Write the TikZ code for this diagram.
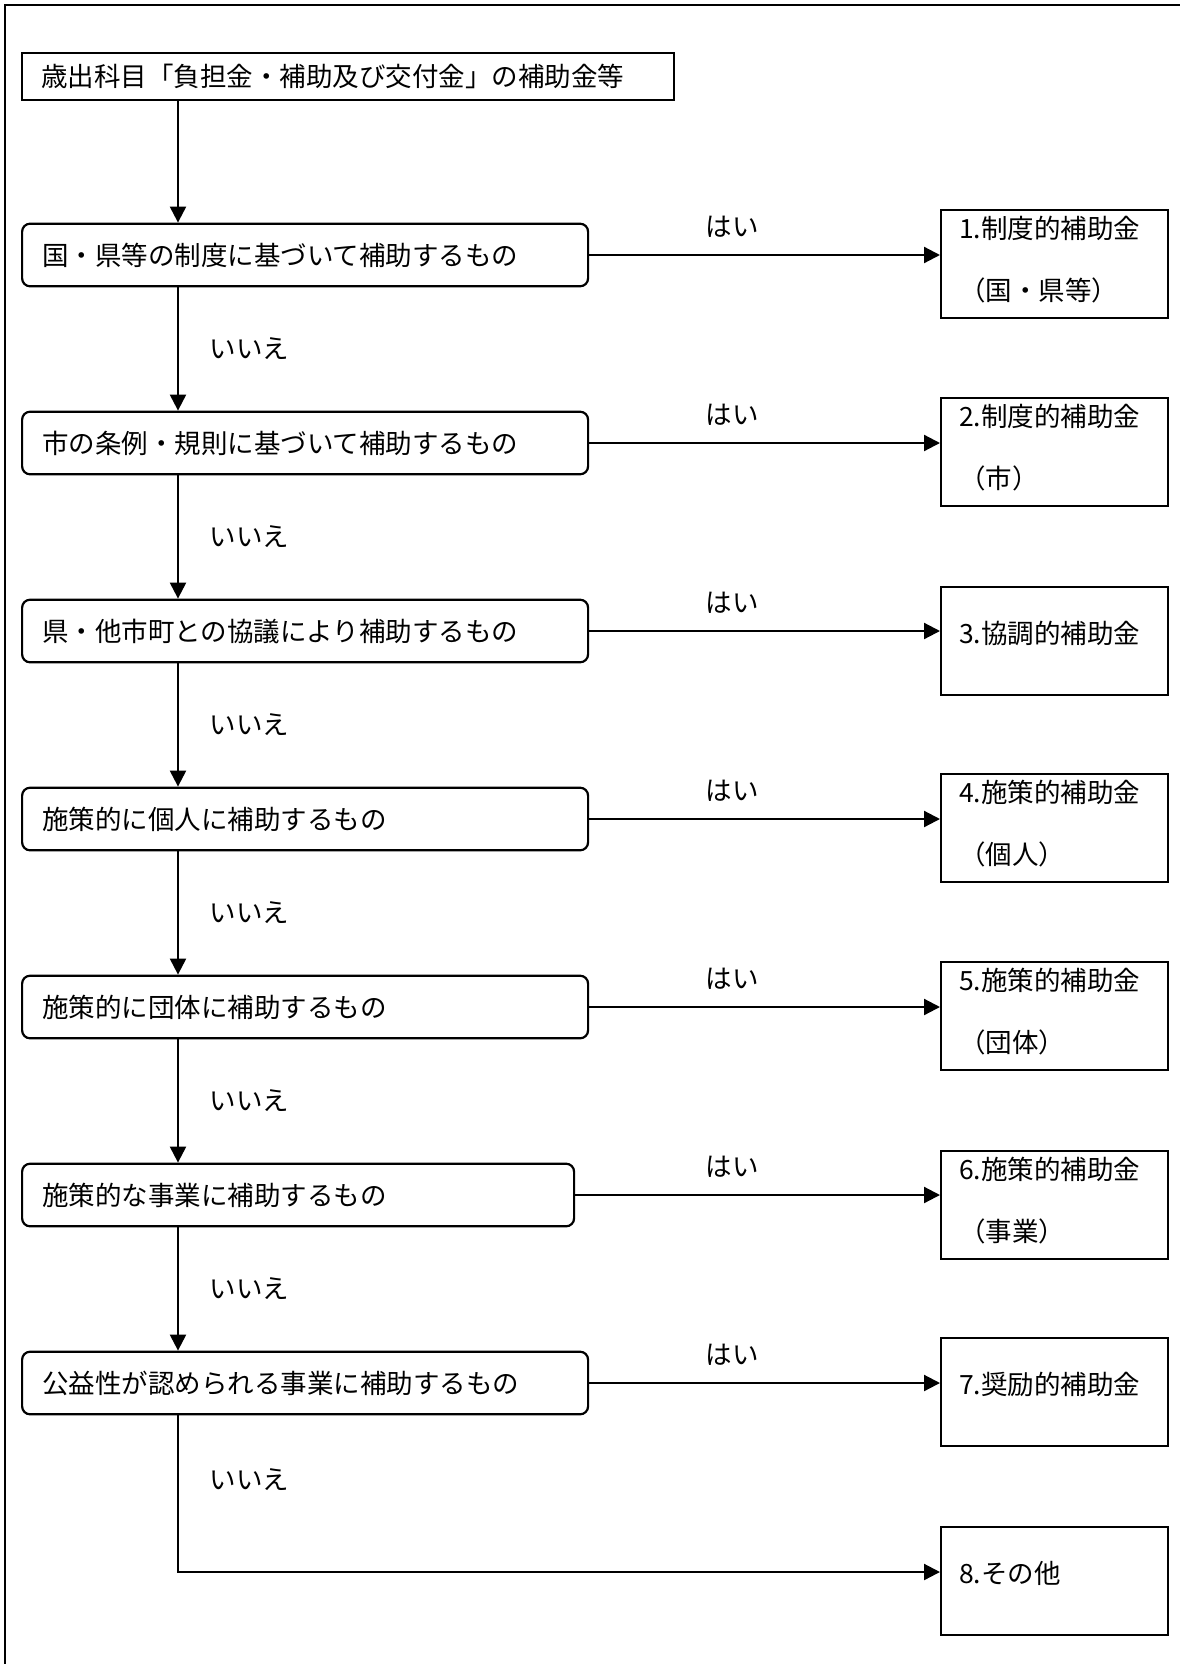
\documentclass[tikz,border=0pt]{standalone}
\usepackage{fontspec}
\setmainfont{Noto Sans CJK JP}
\usetikzlibrary{arrows.meta}

\begin{document}
\begin{tikzpicture}[
  x=0.5pt, y=-0.5pt,
  line width=1.1pt,
  >={Triangle[length=8pt,width=8pt]},
  every node/.style={font=\fontsize{13.25}{16}\selectfont},
  startbox/.style={
    draw, anchor=west, align=left,
    inner xsep=9.5pt, minimum height=23.5pt, text width=307pt
  },
  askbox/.style={
    draw, rounded corners=4pt, anchor=west, align=left,
    inner xsep=10pt, minimum height=31.3pt
  },
  grantbox/.style={
    draw, anchor=west, align=left,
    inner xsep=9pt, inner ysep=2pt, minimum height=54pt, text width=95.5pt,
    font=\fontsize{13.25}{30.75}\selectfont
  }
]
  \useasboundingbox (0,0) rectangle (1180,1664);
  \draw (5,1664) -- (5,5) -- (1180,5);
  \node[startbox] (start) at (21,76.5) {歳出科目「負担金・補助及び交付金」の補助金等};
  \foreach \i/\y/\tw/\txt in {
      1/255/263pt/国・県等の制度に基づいて補助するもの,
      2/443/263pt/市の条例・規則に基づいて補助するもの,
      3/631/263pt/県・他市町との協議により補助するもの,
      4/819/263pt/施策的に個人に補助するもの,
      5/1007/263pt/施策的に団体に補助するもの,
      6/1195/256pt/施策的な事業に補助するもの,
      7/1383/263pt/公益性が認められる事業に補助するもの} {
    \node[askbox, text width=\tw] (q\i) at (21,\y) {\txt};
  }
  \foreach \i/\y/\td/\txt in {
      1/264/36.6pt/{1.制度的補助金\\（国・県等）},
      2/452/36.6pt/{2.制度的補助金\\（市）},
      3/641/9pt/{3.協調的補助金},
      4/828/36.6pt/{4.施策的補助金\\（個人）},
      5/1016/36.6pt/{5.施策的補助金\\（団体）},
      6/1205/36.6pt/{6.施策的補助金\\（事業）},
      7/1392/9pt/{7.奨励的補助金},
      8/1581/9pt/{8.その他}} {
    \node[grantbox, text depth=\td] (r\i) at (940,\y) {\txt};
  }
  % yes branches
  \coordinate (hai) at (732,0);
  \foreach \i in {1,...,7} {
    \draw[->] (q\i.east) -- (q\i.east -| r\i.west);
    \node[above=5pt] (y\i) at (q\i.east -| hai) {はい};
  }
  % no branches
  \coordinate (spine) at (178,0);
  \coordinate (turn) at (178,1572);
  \draw[->] (spine |- start.south) -- (spine |- q1.north);
  \foreach \i/\j in {1/2,2/3,3/4,4/5,5/6,6/7} {
    \draw[->] (spine |- q\i.south) -- (spine |- q\j.north) node[midway, right=12pt]{いいえ};
  }
  \draw[->] (spine |- q7.south) -- node[pos=0.41, right=12pt]{いいえ} (turn) -- (turn -| r8.west);
\end{tikzpicture}
\end{document}
